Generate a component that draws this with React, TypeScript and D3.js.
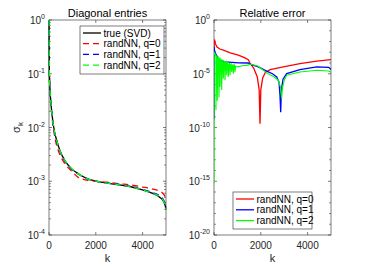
import React from "react";
import * as d3 from "d3";

// ---------- data ----------
// Left panel: diagonal entries sigma_k
const kTrue = [1, 3, 8, 15, 30, 43, 85, 141, 227, 328, 470, 684, 970, 1250, 1680, 2000, 2500, 3000, 3500, 4000, 4400, 4740, 4880, 4960, 5000];
const sTrue = [1.0, 0.5, 0.2, 0.1, 0.065, 0.05, 0.0275, 0.0158, 0.0087, 0.0058, 0.0037, 0.0024, 0.0017, 0.00138, 0.0011, 0.00101, 0.00092, 0.00086, 0.00079, 0.00069, 0.0006, 0.0005, 0.00043, 0.00036, 0.0003];

const kQ0 = [1, 3, 8, 15, 30, 43, 85, 141, 227, 328, 470, 684, 970, 1250, 1680, 2000, 2500, 3000, 3500, 4000, 4400, 4800, 4950, 5000];
const sQ0 = [1.0, 0.5, 0.2, 0.1, 0.06, 0.045, 0.025, 0.014, 0.0075, 0.0046, 0.0031, 0.0021, 0.00155, 0.00118, 0.00104, 0.001, 0.00096, 0.0009, 0.00085, 0.00078, 0.00072, 0.00063, 0.00053, 0.00047];

const kQ1 = [1, 3, 8, 15, 30, 43, 85, 141, 227, 328, 470, 684, 970, 1250, 1680, 2000, 2500, 3000, 3500, 4000, 4400, 4740, 4880, 4960, 5000];
const sQ1 = [1.0, 0.5, 0.2, 0.1, 0.065, 0.05, 0.027, 0.0155, 0.0085, 0.0056, 0.0036, 0.00235, 0.00167, 0.00136, 0.0011, 0.00101, 0.00093, 0.00087, 0.0008, 0.0007, 0.00062, 0.00053, 0.00046, 0.00039, 0.00033];

const kQ2 = [1, 3, 8, 15, 30, 43, 85, 141, 227, 328, 470, 684, 970, 1250, 1680, 2000, 2500, 3000, 3500, 4000, 4400, 4740, 4880, 4960, 5000];
const sQ2 = [1.0, 0.5, 0.2, 0.1, 0.065, 0.05, 0.0275, 0.0158, 0.0087, 0.0058, 0.0037, 0.0024, 0.0017, 0.00137, 0.0011, 0.00101, 0.00092, 0.00086, 0.00079, 0.00069, 0.0006, 0.00051, 0.00044, 0.00036, 0.0003];

// Right panel: relative error (log10 values)
const kErr0 = [1, 8, 25, 60, 120, 250, 400, 700, 1040, 1300, 1466, 1540, 1700, 1850, 1930, 1966, 2000, 2080, 2200, 2400, 2960, 3675, 4390, 5000];
const lErr0 = [-2.65, -1.9, -1.87, -2.2, -2.5, -2.7, -2.8, -3.05, -3.27, -3.5, -3.7, -4.0, -4.5, -5.3, -6.5, -9.66, -6.5, -5.4, -4.85, -4.62, -4.36, -4.05, -3.83, -3.68];

const kErr1 = [1, 5, 20, 60, 140, 250, 470, 1040, 1466, 1540, 1893, 2250, 2500, 2680, 2780, 2820, 2850, 2880, 2950, 3105, 3675, 4390, 4900, 5000];
const lErr1 = [-9.2, -2.5, -2.8, -3.1, -3.43, -3.75, -3.9, -3.99, -4.0, -4.1, -4.36, -4.75, -5.0, -5.3, -5.8, -7.0, -8.57, -6.5, -5.5, -4.98, -4.61, -4.36, -4.4, -4.6];

const kErr2 = [1, 5, 40, 80, 85, 90, 120, 141, 160, 190, 214, 235, 250, 256, 265, 300, 328, 350, 380, 397, 420, 450, 470, 500, 530, 543, 560, 590, 611, 640, 670, 684, 710, 740, 756, 790, 815, 826, 850, 880, 897, 920, 1040, 1200, 1466, 1540, 1893, 2250, 2500, 2750, 2850, 2890, 2930, 3000, 3105, 3675, 4390, 4900, 5000];
const lErr2 = [-15.2, -3.0, -3.1, -3.4, -8.4, -3.5, -3.3, -7.5, -3.6, -3.4, -7.2, -3.7, -3.5, -6.2, -3.8, -3.6, -6.5, -3.9, -3.7, -5.45, -4.0, -3.8, -5.6, -4.0, -3.9, -5.14, -4.1, -3.9, -5.3, -4.2, -4.0, -5.14, -4.2, -4.1, -4.83, -4.3, -4.1, -5.0, -4.3, -4.2, -4.83, -4.3, -4.36, -4.25, -4.2, -4.1, -4.3, -4.92, -5.2, -5.6, -6.3, -7.3, -6.3, -5.6, -5.14, -4.83, -4.67, -4.75, -4.85];

const xTicks = [0, 2000, 4000];
const leftDecades = [0, -1, -2, -3, -4];
const rightMajor = [0, -5, -10, -15, -20];

const leftLegend = ["true (SVD)", "randNN, q=0", "randNN, q=1", "randNN, q=2"];
const rightLegend = ["randNN, q=0", "randNN, q=1", "randNN, q=2"];

// ---------- layout ----------
const W = 374, H = 267;
const TOP = 20, BOT = 235;
const L1 = 49, R1 = 166;
const L2 = 214, R2 = 331;
const FONT = "'Liberation Sans', Arial, Helvetica, sans-serif";
const AX = "#262626";
const DASH = "6,4";

function zip(ks: number[], vs: number[]) {
  return ks.map((k, i) => [k, vs[i]] as [number, number]);
}

export default function App() {
  const x1 = d3.scaleLinear().domain([0, 5000]).range([L1, R1]);
  const x2 = d3.scaleLinear().domain([0, 5000]).range([L2, R2]);
  const y1 = d3.scaleLog().domain([1e-4, 1]).range([BOT, TOP]);
  const y2 = d3.scaleLinear().domain([-20, 0]).range([BOT, TOP]); // log10 values

  const line1 = d3.line<[number, number]>().x(d => x1(d[0])).y(d => y1(d[1])).curve(d3.curveMonotoneX);
  const line2 = d3.line<[number, number]>().x(d => x2(d[0])).y(d => y2(d[1]));

  const minorLeft: number[] = [];
  for (let e = -4; e < 0; e++) for (let m = 2; m <= 9; m++) minorLeft.push(m * Math.pow(10, e));
  const minorRight: number[] = [];
  for (let e = -20; e <= 0; e++) if (e % 5 !== 0) minorRight.push(e);

  const tl = 3;
  const tm = 2;

  const frame = (L: number, R: number) => (
    <rect x={L} y={TOP} width={R - L} height={BOT - TOP} fill="white" stroke={AX} strokeWidth={0.6} />
  );

  const xAxis = (L: number, R: number, xs: d3.ScaleLinear<number, number>) => (
    <g>
      {xTicks.map(t => (
        <g key={t}>
          <line x1={xs(t)} x2={xs(t)} y1={BOT} y2={BOT - tl} stroke={AX} strokeWidth={0.6} />
          <line x1={xs(t)} x2={xs(t)} y1={TOP} y2={TOP + tl} stroke={AX} strokeWidth={0.6} />
          <text x={xs(t)} y={249} textAnchor="middle" fontSize={10} fill={AX} fontFamily={FONT}>{t}</text>
        </g>
      ))}
      <text x={(L + R) / 2} y={262} textAnchor="middle" fontSize={11} fill={AX} fontFamily={FONT}>k</text>
    </g>
  );

  const yLabel = (x: number, y: number, e: number) => (
    <text x={x} y={y + 4} textAnchor="end" fontSize={10} fill={AX} fontFamily={FONT}>
      10<tspan dy={-5} fontSize={7}>{e}</tspan>
    </text>
  );

  return (
    <svg width={W} height={H} style={{ position: "absolute", left: 0, top: 0, background: "white" }}>
      {/* LEFT PANEL */}
      {frame(L1, R1)}
      {leftDecades.map(e => (
        <g key={e}>
          <line x1={L1} x2={L1 + tl} y1={y1(Math.pow(10, e))} y2={y1(Math.pow(10, e))} stroke={AX} strokeWidth={0.6} />
          <line x1={R1} x2={R1 - tl} y1={y1(Math.pow(10, e))} y2={y1(Math.pow(10, e))} stroke={AX} strokeWidth={0.6} />
          {yLabel(45, y1(Math.pow(10, e)), e)}
        </g>
      ))}
      {minorLeft.map((v, i) => (
        <g key={i}>
          <line x1={L1} x2={L1 + tm} y1={y1(v)} y2={y1(v)} stroke={AX} strokeWidth={0.5} />
          <line x1={R1} x2={R1 - tm} y1={y1(v)} y2={y1(v)} stroke={AX} strokeWidth={0.5} />
        </g>
      ))}
      {xAxis(L1, R1, x1)}
      <text x={(L1 + R1) / 2} y={17} textAnchor="middle" fontSize={11} fill="black" fontFamily={FONT}>Diagonal entries</text>
      <text transform={`translate(20,${(TOP + BOT) / 2}) rotate(-90)`} textAnchor="middle" fontSize={11} fill={AX} fontFamily={FONT}>
        σ<tspan dy={3} fontSize={8}>k</tspan>
      </text>
      <g>
        <path d={line1(zip(kTrue, sTrue)) || ""} fill="none" stroke="black" strokeWidth={1.3} />
        <path d={line1(zip(kQ0, sQ0)) || ""} fill="none" stroke="#ff0000" strokeWidth={1.3} strokeDasharray={DASH} />
        <path d={line1(zip(kQ1, sQ1)) || ""} fill="none" stroke="#0000ff" strokeWidth={1.3} strokeDasharray={DASH} />
        <path d={line1(zip(kQ2, sQ2)) || ""} fill="none" stroke="#00ff00" strokeWidth={1.3} strokeDasharray={DASH} />
      </g>
      {/* left legend */}
      <rect x={80} y={26} width={84} height={48} fill="white" stroke={AX} strokeWidth={0.6} />
      {leftLegend.map((t, i) => {
        const yy = 33 + i * 10.7;
        const col = ["black", "#ff0000", "#0000ff", "#00ff00"][i];
        return (
          <g key={t}>
            <line x1={83} x2={101} y1={yy} y2={yy} stroke={col} strokeWidth={1.3} strokeDasharray={i === 0 ? undefined : DASH} />
            <text x={103.5} y={yy + 3.5} fontSize={10} fill="black" fontFamily={FONT}>{t}</text>
          </g>
        );
      })}

      {/* RIGHT PANEL */}
      {frame(L2, R2)}
      {rightMajor.map(e => (
        <g key={e}>
          <line x1={L2} x2={L2 + tl} y1={y2(e)} y2={y2(e)} stroke={AX} strokeWidth={0.6} />
          <line x1={R2} x2={R2 - tl} y1={y2(e)} y2={y2(e)} stroke={AX} strokeWidth={0.6} />
          {yLabel(210, y2(e), e)}
        </g>
      ))}
      {minorRight.map(e => (
        <g key={e}>
          <line x1={L2} x2={L2 + tm} y1={y2(e)} y2={y2(e)} stroke={AX} strokeWidth={0.5} />
          <line x1={R2} x2={R2 - tm} y1={y2(e)} y2={y2(e)} stroke={AX} strokeWidth={0.5} />
        </g>
      ))}
      {xAxis(L2, R2, x2)}
      <text x={(L2 + R2) / 2} y={17} textAnchor="middle" fontSize={11} fill="black" fontFamily={FONT}>Relative error</text>
      <defs>
        <clipPath id="clip2">
          <rect x={L2} y={TOP} width={R2 - L2} height={BOT - TOP} />
        </clipPath>
      </defs>
      <g clipPath="url(#clip2)">
        <path d={line2(zip(kErr0, lErr0)) || ""} fill="none" stroke="#ff0000" strokeWidth={1.3} />
        <path d={line2(zip(kErr1, lErr1)) || ""} fill="none" stroke="#0000ff" strokeWidth={1.3} />
        <path d={line2(zip(kErr2, lErr2)) || ""} fill="none" stroke="#00ff00" strokeWidth={1.1} />
      </g>
      {/* right legend */}
      <rect x={233} y={192} width={79} height={37} fill="white" stroke={AX} strokeWidth={0.6} />
      {rightLegend.map((t, i) => {
        const yy = 199 + i * 10.8;
        const col = ["#ff0000", "#0000ff", "#00ff00"][i];
        return (
          <g key={t}>
            <line x1={236} x2={254} y1={yy} y2={yy} stroke={col} strokeWidth={1.3} />
            <text x={256.5} y={yy + 3.5} fontSize={10} fill="black" fontFamily={FONT}>{t}</text>
          </g>
        );
      })}
    </svg>
  );
}
